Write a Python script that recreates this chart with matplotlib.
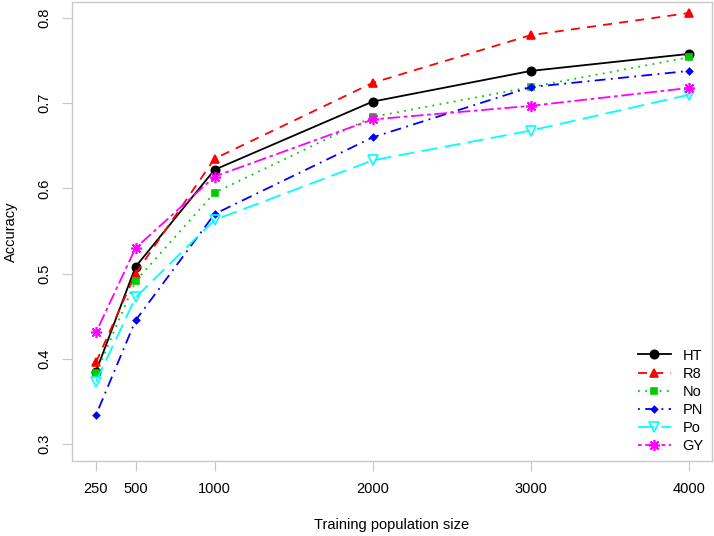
import matplotlib
matplotlib.use('Agg')
import matplotlib.pyplot as plt

plt.rcParams['font.family'] = ['Liberation Sans', 'DejaVu Sans']

sizes = [250, 500, 1000, 2000, 3000, 4000]
ht = [0.385, 0.508, 0.622, 0.702, 0.738, 0.758]
r8 = [0.396, 0.500, 0.635, 0.724, 0.780, 0.806]
no = [0.383, 0.491, 0.595, 0.684, 0.719, 0.754]
pn = [0.334, 0.445, 0.570, 0.660, 0.719, 0.738]
po = [0.373, 0.472, 0.563, 0.633, 0.668, 0.710]
gy = [0.431, 0.530, 0.614, 0.681, 0.697, 0.718]
yticks = [0.3, 0.4, 0.5, 0.6, 0.7, 0.8]

series = [
    ('HT', ht, 'black', '-', 'o', 6, 'black'),
    ('R8', r8, '#ff0000', (0, (5, 4)), '^', 6, '#ff0000'),
    ('No', no, '#00cd00', (0, (1, 3)), 's', 4.5, '#00cd00'),
    ('PN', pn, '#0000ff', (0, (1, 3, 6, 3)), 'D', 3.2, '#0000ff'),
    ('Po', po, '#00ffff', (0, (9, 4)), 'v', 7, 'none'),
    ('GY', gy, '#ff00ff', (0, (2, 2, 7, 2)), (8, 2, 0), 8, '#ff00ff'),
]

fig = plt.figure(figsize=(7.14, 5.36), dpi=100)
ax = fig.add_axes([0.1008, 0.1399, 0.8962, 0.8571])

for name, vals, col, ls, mk, ms, fc in series:
    ax.plot(sizes, vals, color=col, linestyle=ls, linewidth=1.3,
            marker=mk, markersize=ms, markerfacecolor=fc,
            markeredgecolor=col, markeredgewidth=1.2, label=name)

ax.set_xlim(98, 4146)
ax.set_ylim(0.280, 0.8194)
ax.set_xticks(sizes)
ax.set_xticklabels([str(s) for s in sizes])
ax.set_yticks(yticks)
ax.set_yticklabels([str(v) for v in yticks], rotation=90, va='center')
ax.tick_params(axis='both', direction='out', length=7, width=0.8,
               color='#c8c8c8', labelsize=10.5, pad=8)
for sp in ax.spines.values():
    sp.set_color('#c8c8c8')
    sp.set_linewidth(1.0)

ax.set_xlabel('Training population size', fontsize=10.5, labelpad=16)
ax.set_ylabel('Accuracy', fontsize=10.5, labelpad=14)

leg = ax.legend(loc='lower right', frameon=False, fontsize=10.5,
                handlelength=2.3, labelspacing=0.28, handletextpad=0.8,
                borderaxespad=0.15)

fig.savefig('out.png', dpi=100)
